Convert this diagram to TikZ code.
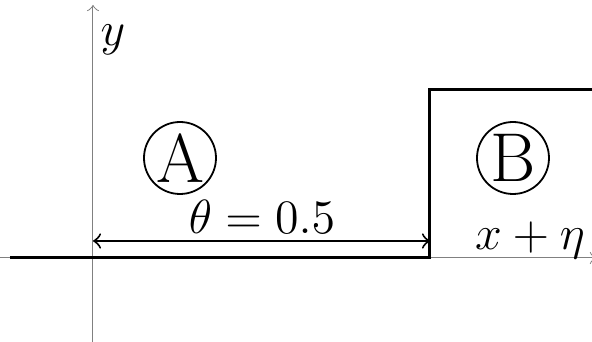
\documentclass[tikz,border=0pt]{standalone}
\usetikzlibrary{arrows}
\begin{document}
\begin{tikzpicture}[x=0.25pt,y=-0.25pt,
  axis/.style={draw=gray,line width=0.25pt,-to},
  stepline/.style={draw=black,line width=0.75pt},
  dimarrow/.style={draw=black,line width=0.5pt,to-to},
  ring/.style={circle,draw=black,line width=0.45pt,minimum size=18pt,inner sep=0pt,font=\fontsize{17.28}{17}\selectfont},
  lbl/.style={inner sep=0pt,font=\fontsize{11.5}{12}\selectfont}]
\useasboundingbox (0,0) rectangle (592,342);
\coordinate (ybot) at (93,350);
\coordinate (ytop) at (93,5);
\coordinate (xl) at (0,258);
\coordinate (xr) at (596,258);
\draw[axis] (ybot) -- (ytop);
\draw[axis] (xl) -- (xr);
\coordinate (s0) at (10,258);
\coordinate (s1) at (430,258);
\coordinate (s2) at (430,90);
\coordinate (s3) at (600,90);
\draw[stepline] (s0) -- (s1) -- (s2) -- (s3);
\coordinate (d0) at (93,241);
\coordinate (d1) at (430,241);
\draw[dimarrow] (d0) -- (d1);
\node[lbl] (theta) at (262,217) {$\theta = 0.5$};
\node[ring] (A) at (180,158) {A};
\node[ring] (B) at (513,158) {B};
\node[lbl] (xe) at (530,240) {$x + \eta$};
\node[lbl] (y) at (113,40) {$y$};
\end{tikzpicture}
\end{document}
